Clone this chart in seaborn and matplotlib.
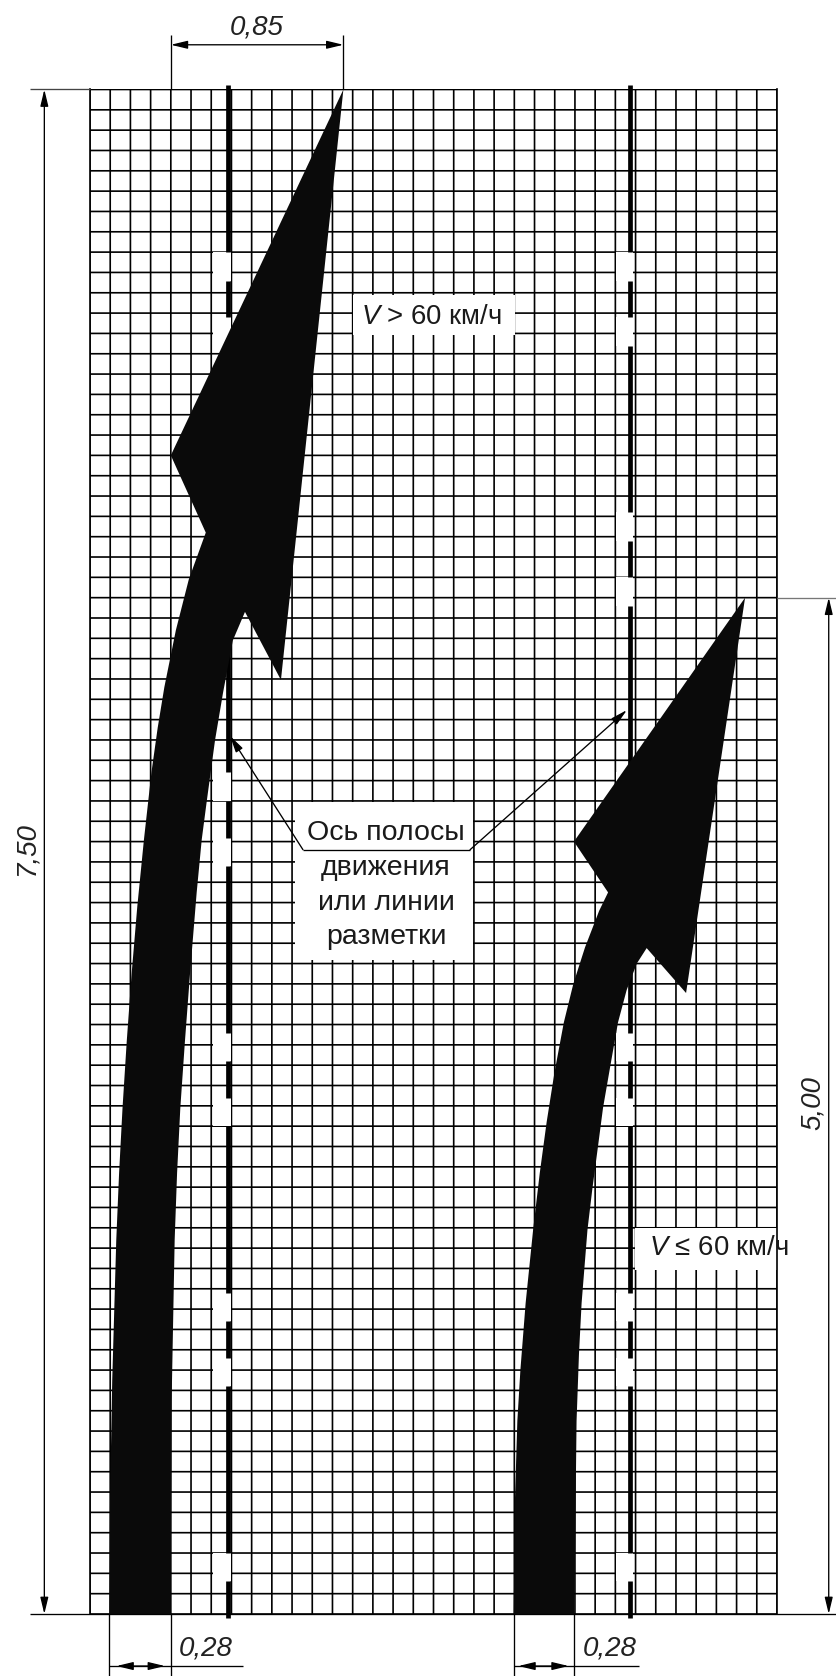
"""Road arrow marking drawn on a 0.1 m grid (all lengths in metres)."""

import matplotlib
matplotlib.use("Agg")
import matplotlib.pyplot as plt
from matplotlib.patches import Rectangle
import numpy as np
import pandas as pd
import seaborn as sns

sns.set_style("white")
plt.rcParams["font.family"] = ["Liberation Sans", "DejaVu Sans"]
plt.rcParams["mathtext.fontset"] = "custom"
plt.rcParams["mathtext.it"] = "Liberation Sans:italic"
plt.rcParams["mathtext.rm"] = "Liberation Sans"

# Grid, metres
GRID_WIDTH = 3.4
GRID_HEIGHT = 7.5
CELL = 0.1

# Long arrow, V > 60
long_x = [0.095, 0.099, 0.110, 0.130, 0.144, 0.161, 0.182, 0.206, 0.234, 0.267, 0.304,
          0.335, 0.368, 0.425, 0.489, 0.573, 0.40, 1.254, 0.945, 0.767, 0.707, 0.658,
          0.619, 0.578, 0.553, 0.528, 0.495, 0.470, 0.447, 0.431, 0.419, 0.404, 0.399]
long_y = [0.0, 0.56, 1.15, 1.84, 2.17, 2.49, 2.82, 3.15, 3.48, 3.81, 4.14,
          4.36, 4.56, 4.84, 5.09, 5.32, 5.70, 7.50, 4.595, 4.93, 4.79, 4.53,
          4.30, 4.00, 3.81, 3.55, 3.15, 2.82, 2.49, 2.17, 1.84, 1.05, 0.0]

# Short arrow, V <= 60
short_x = [2.097, 2.103, 2.115, 2.130, 2.156, 2.193, 2.226, 2.260, 2.298, 2.345, 2.392,
           2.450, 2.520, 2.564, 2.395, 3.242, 2.950, 2.755, 2.706, 2.656, 2.613, 2.574,
           2.539, 2.514, 2.486, 2.462, 2.433, 2.420, 2.408, 2.397]
short_y = [0.0, 0.56, 0.95, 1.20, 1.53, 1.89, 2.17, 2.42, 2.66, 2.91, 3.10,
           3.28, 3.46, 3.55, 3.80, 5.00, 3.055, 3.276, 3.20, 3.07, 2.91, 2.69,
           2.49, 2.30, 2.09, 1.89, 1.53, 1.28, 0.95, 0.0]

# Lane marking dashes (same on both axes)
lane_axes = [0.681, 2.672]
dash_start = [-0.02, 0.30, 1.26, 1.58, 2.54, 2.86, 3.82, 4.14, 5.10, 5.42, 6.38, 6.70]
dash_end = [0.16, 1.12, 1.44, 2.40, 2.72, 3.68, 4.00, 4.96, 5.28, 6.24, 6.56, 7.52]

dash_rows = []
for lane_no, lane_x in enumerate(lane_axes):
    for i, (y0, y1) in enumerate(zip(dash_start, dash_end)):
        dash_rows.append({"dash": f"{lane_no}-{i}", "x": lane_x, "y": y0})
        dash_rows.append({"dash": f"{lane_no}-{i}", "x": lane_x, "y": y1})
dashes = pd.DataFrame(dash_rows)

W, H = 837, 1676
fig = plt.figure(figsize=(W / 100, H / 100), dpi=100)
ax = fig.add_axes([90 / W, (H - 1614) / H, (777 - 90) / W, (1614 - 89.5) / H])
ax.set_xlim(0, GRID_WIDTH)
ax.set_ylim(0, GRID_HEIGHT)
ax.set_xticks(np.arange(0, 35) * CELL)
ax.set_yticks(np.arange(0, 76) * CELL)
ax.tick_params(length=0, labelbottom=False, labelleft=False)
ax.set_axisbelow(True)
ax.grid(True, color="black", linewidth=1.2, snap=False)
for spine in ax.spines.values():
    spine.set_color("black")
    spine.set_linewidth(1.2)
ax.spines["top"].set_visible(False)
ax.spines["bottom"].set_visible(False)


def white_box(x0, y0, x1, y1, zorder=2):
    ax.add_patch(Rectangle((x0, y0), x1 - x0, y1 - y0, facecolor="white", edgecolor="none",
                           zorder=zorder, clip_on=False))


def plain_line(xs, ys, color="black", lw=0.95, zorder=6):
    ax.plot(xs, ys, color=color, lw=lw, zorder=zorder, clip_on=False, solid_capstyle="butt")


def dim_arrow(start, end, style="<|-|>"):
    ax.annotate("", xy=end, xytext=start, zorder=7, annotation_clip=False,
                arrowprops=dict(arrowstyle=f"{style},head_length=1.0,head_width=0.24",
                                mutation_scale=10, shrinkA=0, shrinkB=0, lw=0.95,
                                color="black"))


# Grid is erased around the labels and in the gaps of the lane marking
white_box(1.302, 6.29, 2.104, 6.49)
white_box(1.015, 3.217, 1.896, 3.995)
white_box(2.697, 1.69, 3.613, 1.90)
for lane_x in lane_axes:
    for y0, y1 in zip(dash_end[:-1], dash_start[1:]):
        white_box(lane_x - 0.07, y0, lane_x + 0.015, y1)

sns.lineplot(data=dashes, x="x", y="y", units="dash", estimator=None, sort=False, color="black",
             lw=3.4, solid_capstyle="butt", legend=False, clip_on=False, zorder=3, ax=ax)
ax.set_xlabel("")
ax.set_ylabel("")
ax.set_xlim(0, GRID_WIDTH)
ax.set_ylim(0, GRID_HEIGHT)

ax.fill(long_x, long_y, color="#0a0a0a", linewidth=0, zorder=4)
ax.fill(short_x, short_y, color="#0a0a0a", linewidth=0, zorder=4)

# Extension lines
plain_line([-0.297, 0], [GRID_HEIGHT, GRID_HEIGHT], color="#444444")
plain_line([-0.297, 3.697], [0, 0])
plain_line([GRID_WIDTH, 3.697], [5.0, 5.0], color="#777777")
plain_line([0.40, 0.40], [GRID_HEIGHT, 7.77])
plain_line([1.254, 1.254], [GRID_HEIGHT, 7.77])
for x in [0.095, 0.399, 2.097, 2.397]:
    plain_line([x, x], [0, -0.305])

# Dimension lines
dim_arrow((-0.226, 0), (-0.226, GRID_HEIGHT))
dim_arrow((3.656, 0), (3.656, 5.0))
dim_arrow((0.40, 7.72), (1.254, 7.72))
plain_line([0.095, 0.757], [-0.256, -0.256])
plain_line([2.097, 2.717], [-0.256, -0.256])
dim_arrow((0.131, -0.256), (0.371, -0.256))
dim_arrow((2.12, -0.256), (2.369, -0.256))

# Leaders of the centre note
plain_line([1.054, 1.881], [3.76, 3.76])
for start, end in [((1.054, 3.76), (0.693, 4.32)), ((1.881, 3.76), (2.657, 4.447))]:
    dim_arrow(start, end, style="-|>")

dim_style = dict(style="italic", fontsize=20, color="#222222", ha="center", va="center",
                 zorder=8, clip_on=False)
ax.text(0.826, 7.805, "0,85", **dim_style)
ax.text(0.574, -0.172, "0,28", **dim_style)
ax.text(2.574, -0.172, "0,28", **dim_style)
ax.text(-0.315, 3.763, "7,50", rotation=90, **dim_style)
ax.text(3.58, 2.514, "5,00", rotation=90, **dim_style)

note_style = dict(color="#1a1a1a", ha="center", va="center", zorder=8, clip_on=False)
ax.text(1.692, 6.38, r"$\mathit{V}$ > 60 км/ч", fontsize=19.8, **note_style)
ax.text(3.114, 1.80, r"$\mathit{V}$ ≤ 60 км/ч", fontsize=19.8, **note_style)
note_lines = ["Ось полосы", "движения", "или линии", "разметки"]
note_y = [3.84, 3.67, 3.50, 3.33]
for line, y in zip(note_lines, note_y):
    ax.text(1.465, y, line, fontsize=20.5, **note_style)

fig.savefig("out.png", dpi=100, facecolor="white")
